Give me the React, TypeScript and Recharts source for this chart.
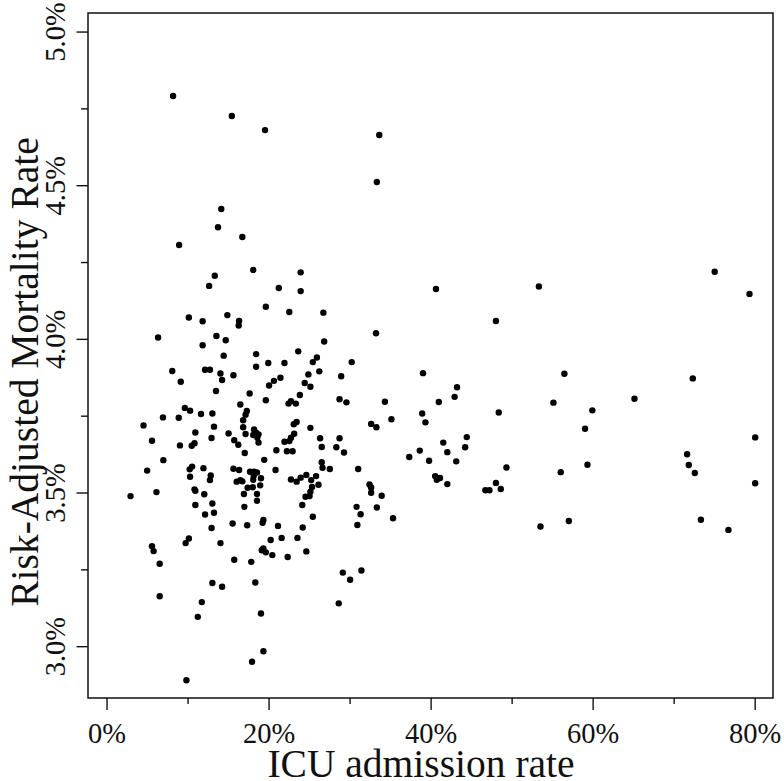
import React from "react";
import { ScatterChart, Scatter, XAxis, YAxis, ReferenceArea } from "recharts";

// ICU admission rate (%) for each hospital
const icuRate: number[] = [
  8.15, 15.4, 19.5, 33.6, 33.3, 14.1, 13.7, 16.7, 8.9,
  18.05, 13.3, 12.6, 19.6, 10.1, 11.8, 14.85, 16.3, 16.25,
  23.9, 21.2, 23.9, 40.6, 22.5, 26.7, 33.2, 26.8, 23.6, 18.4, 18.4, 19.9,
  21.9, 25.4, 25.9, 30.2, 26.2, 24.85, 28.9, 21.4, 20.6, 20.0,
  24.4, 25.1, 39.0, 17.6, 23.8, 19.6, 22.4, 22.7, 23.3, 28.7,
  29.55, 34.3, 40.95, 38.9, 39.3, 35.1, 32.6, 33.25, 23.05, 23.4,
  25.1, 18.15, 18.4, 18.7, 18.05, 18.55, 18.7, 23.1, 22.7, 22.5,
  21.9, 26.3, 26.5, 28.7, 28.3, 29.25, 20.9, 22.2, 22.9, 19.4,
  37.3, 38.6, 39.75, 41.5, 42.0, 26.5, 26.6, 27.5, 31.0, 20.8,
  17.65, 18.15, 18.5, 18.1, 18.05, 19.0, 18.9, 18.0, 18.5, 18.5,
  22.7, 23.4, 23.9, 24.6, 25.2, 25.8, 25.3, 26.1, 25.1, 24.5,
  25.0, 32.4, 32.6, 32.6, 33.9, 40.5, 40.7, 41.1, 42.0,
  24.1, 25.4, 30.8, 31.3, 33.3, 30.9, 35.3, 19.3, 19.2, 21.1,
  24.15, 20.2, 21.55, 23.5, 19.3, 19.1, 19.6, 20.4, 22.3, 24.6,
  17.8, 29.1, 31.4, 30.0,
  18.3, 28.6, 19.0, 19.3, 17.9,
  2.9, 6.1, 10.9, 12.0, 16.9, 16.95, 10.9, 13.0, 12.1, 13.2,
  12.9, 15.5, 17.3, 10.1, 9.7, 5.55, 5.75, 6.5, 14.0, 15.7,
  13.0, 14.2, 6.5, 11.7, 11.2, 9.8,
  6.3, 13.5, 14.65, 11.8, 14.4, 8.05, 12.1, 12.7, 14.0, 14.2,
  15.6, 9.1, 13.45, 16.45, 17.25, 17.1, 9.6, 10.25, 11.6, 13.0,
  6.9, 8.85, 4.5, 16.8, 16.8, 13.2, 10.9, 17.1, 15.0, 15.7,
  16.2, 12.9, 5.55, 10.8, 10.45, 9.0, 17.0, 6.95, 10.2, 10.5,
  11.9, 4.95, 10.25, 12.8, 12.7, 15.6, 16.3, 16.0, 16.45, 16.7,
  17.35, 10.8,
  53.3, 48.0, 56.45, 43.2, 42.9, 55.1, 59.9, 48.35, 59.0, 44.4,
  44.2, 43.1, 49.3, 59.3, 56.0, 48.0, 46.7, 47.2, 48.6, 57.0, 53.5,
  75.0, 79.3, 72.3, 65.1, 80.0, 71.6, 71.8, 72.55, 80.0, 73.3, 76.7,
];

// Risk-adjusted mortality rate (%) for each hospital (same order)
const mortalityRate: number[] = [
  4.792, 4.727, 4.681, 4.665, 4.512, 4.424, 4.365, 4.333, 4.307,
  4.226, 4.207, 4.174, 4.106, 4.071, 4.059, 4.079, 4.06, 4.045,
  4.218, 4.167, 4.157, 4.164, 4.089, 4.087, 4.02, 3.993, 3.961, 3.952, 3.911, 3.923,
  3.923, 3.926, 3.941, 3.926, 3.896, 3.886, 3.88, 3.875, 3.865, 3.85,
  3.858, 3.846, 3.89, 3.824, 3.819, 3.802, 3.791, 3.799, 3.791, 3.805,
  3.795, 3.797, 3.796, 3.759, 3.73, 3.74, 3.725, 3.714, 3.724, 3.731,
  3.712, 3.707, 3.696, 3.691, 3.689, 3.68, 3.664, 3.693, 3.68, 3.669,
  3.667, 3.678, 3.65, 3.678, 3.649, 3.632, 3.639, 3.636, 3.636, 3.608,
  3.617, 3.638, 3.605, 3.664, 3.633, 3.6, 3.582, 3.578, 3.578, 3.575,
  3.569, 3.569, 3.567, 3.555, 3.543, 3.548, 3.525, 3.519, 3.497, 3.475,
  3.544, 3.537, 3.55, 3.559, 3.542, 3.555, 3.52, 3.527, 3.504, 3.488,
  3.49, 3.528, 3.518, 3.501, 3.491, 3.555, 3.543, 3.549, 3.529,
  3.461, 3.423, 3.455, 3.431, 3.453, 3.396, 3.418, 3.412, 3.403, 3.393,
  3.388, 3.347, 3.354, 3.354, 3.32, 3.314, 3.307, 3.298, 3.292, 3.31,
  3.276, 3.241, 3.248, 3.218,
  3.209, 3.141, 3.108, 2.985, 2.951,
  3.49, 3.503, 3.507, 3.496, 3.497, 3.455, 3.461, 3.466, 3.43, 3.436,
  3.386, 3.401, 3.395, 3.352, 3.337, 3.327, 3.311, 3.27, 3.337, 3.283,
  3.207, 3.195, 3.164, 3.145, 3.097, 2.891,
  4.006, 4.011, 3.997, 3.981, 3.947, 3.897, 3.901, 3.901, 3.889, 3.868,
  3.883, 3.862, 3.832, 3.788, 3.767, 3.755, 3.777, 3.768, 3.757, 3.759,
  3.746, 3.745, 3.72, 3.737, 3.714, 3.716, 3.697, 3.692, 3.694, 3.672,
  3.657, 3.679, 3.67, 3.662, 3.654, 3.655, 3.63, 3.607, 3.577, 3.586,
  3.581, 3.573, 3.553, 3.557, 3.542, 3.579, 3.575, 3.537, 3.542, 3.538,
  3.517, 3.512,
  4.172, 4.06, 3.888, 3.844, 3.813, 3.794, 3.769, 3.762, 3.709, 3.682,
  3.649, 3.603, 3.583, 3.592, 3.568, 3.533, 3.509, 3.509, 3.513, 3.409, 3.391,
  4.22, 4.148, 3.873, 3.807, 3.681, 3.626, 3.591, 3.565, 3.532, 3.413, 3.38,
];

const xTicks: number[] = [0, 10, 20, 30, 40, 50, 60, 70, 80];
const xMajorTicks: number[] = [0, 20, 40, 60, 80];
const yTicks: number[] = [3.0, 3.25, 3.5, 3.75, 4.0, 4.25, 4.5, 4.75, 5.0];
const yMajorTicks: number[] = [3.0, 3.5, 4.0, 4.5, 5.0];

const X_DOMAIN: [number, number] = [-2.35, 82.2];
const Y_DOMAIN: [number, number] = [2.833, 5.062];

const data = icuRate.map((x, i) => ({ x, y: mortalityRate[i] }));

const FONT = "'Liberation Serif', 'Times New Roman', serif";
const INK = "#111";

const XTick = (props: any) => {
  const { x, y, payload } = props;
  const major = xMajorTicks.includes(payload.value);
  return (
    <g>
      <line x1={x} y1={y} x2={x} y2={y + (major ? 12 : 6)} stroke={INK} strokeWidth={1.4} />
      {major && (
        <text x={x} y={y + 45} textAnchor="middle" fontSize={28.5} fontFamily={FONT} fill={INK}>
          {`${payload.value}%`}
        </text>
      )}
    </g>
  );
};

const YTick = (props: any) => {
  const { x, y, payload } = props;
  const major = yMajorTicks.some((t) => Math.abs(t - payload.value) < 1e-6);
  const tx = x - 23;
  return (
    <g>
      <line x1={x - (major ? 11.5 : 7)} y1={y} x2={x} y2={y} stroke={INK} strokeWidth={1.4} />
      {major && (
        <text
          x={tx}
          y={y}
          textAnchor="middle"
          fontSize={28.5}
          fontFamily={FONT}
          fill={INK}
          transform={`rotate(-90, ${tx}, ${y})`}
        >
          {`${Number(payload.value).toFixed(1)}%`}
        </text>
      )}
    </g>
  );
};

const Dot = (p: any) => <circle cx={p.cx} cy={p.cy} r={3.2} fill="#000" />;

export default function App() {
  return (
    <div style={{ position: "absolute", left: 0, top: 0, width: 784, height: 781, background: "#fff" }}>
      <ScatterChart width={784} height={781} margin={{ top: 13, right: 11, bottom: 0, left: 0 }}>
        <XAxis
          type="number"
          dataKey="x"
          domain={X_DOMAIN}
          ticks={xTicks}
          interval={0}
          tick={<XTick />}
          tickLine={false}
          tickSize={0}
          tickMargin={0}
          axisLine={false}
          height={83}
          allowDataOverflow
          label={{
            content: () => (
              <text x={421} y={777} textAnchor="middle" fontSize={39.5} fontFamily={FONT} fill={INK}>
                ICU admission rate
              </text>
            ),
          }}
        />
        <YAxis
          type="number"
          dataKey="y"
          domain={Y_DOMAIN}
          ticks={yTicks}
          interval={0}
          tick={<YTick />}
          tickLine={false}
          tickSize={0}
          tickMargin={0}
          axisLine={false}
          width={88}
          allowDataOverflow
          label={{
            content: () => (
              <text
                x={38}
                y={372}
                textAnchor="middle"
                fontSize={39.5}
                fontFamily={FONT}
                fill={INK}
                transform="rotate(-90, 38, 372)"
              >
                Risk-Adjusted Mortality Rate
              </text>
            ),
          }}
        />
        <ReferenceArea
          x1={X_DOMAIN[0]}
          x2={X_DOMAIN[1]}
          y1={Y_DOMAIN[0]}
          y2={Y_DOMAIN[1]}
          fill="none"
          stroke={INK}
          strokeWidth={1.5}
          ifOverflow="visible"
        />
        <Scatter data={data} shape={<Dot />} isAnimationActive={false} />
      </ScatterChart>
    </div>
  );
}
